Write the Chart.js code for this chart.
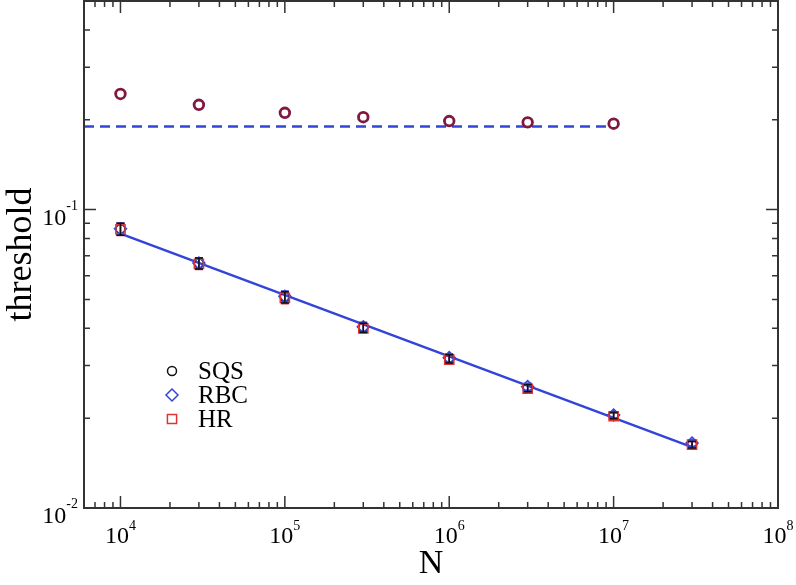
<!DOCTYPE html>
<html>
<head>
<meta charset="utf-8">
<script src="https://cdn.jsdelivr.net/npm/chart.js@4.4.0/dist/chart.umd.min.js"></script>
<style>
  html, body { margin: 0; padding: 0; background: #fff; }
</style>
</head>
<body>
<canvas id="chart" width="796" height="585"></canvas>
<script>
// system sizes N and thresholds
const sizes = [1e4, 3e4, 1e5, 3e5, 1e6, 3e6, 1e7, 3e7];
const sqsValues = [0.0860, 0.0660, 0.0508, 0.0402, 0.0316, 0.0252, 0.0204, 0.0163];
const rbcValues = [0.0862, 0.0662, 0.0512, 0.0405, 0.0319, 0.0255, 0.0205, 0.0165];
const hrValues  = [0.0858, 0.0658, 0.0506, 0.0400, 0.0314, 0.0251, 0.0203, 0.0163];
const errors    = [0.0040, 0.0028, 0.0022, 0.0014, 0.0010, 0.0007, 0.0005, 0.0004];

const upperSizes  = [1e4, 3e4, 1e5, 3e5, 1e6, 3e6, 1e7];
const upperValues = [0.244, 0.2245, 0.211, 0.204, 0.198, 0.196, 0.194];

const fitSizes  = [1e4, 3e7];
const fitValues = [0.0831, 0.0160];
const limitSizes  = [6000, 1e7];
const limitValues = [0.19, 0.19];

const xTickExponents = [4, 5, 6, 7, 8];
const yTickExponents = [-2, -1];

const BLUE = '#3344d8';
const RED = '#e03434';
const FONT = '"Liberation Serif", "Times New Roman", Times, serif';

const pts = (xs, ys) => xs.map((x, i) => ({ x: x, y: ys[i] }));

// inward ticks on all four sides, frame and 10^n labels
const framePlugin = {
    id: 'frame',
    afterDraw(chart) {
        const { ctx, chartArea: a, scales: { x, y } } = chart;
        ctx.save();
        ctx.strokeStyle = '#333';
        ctx.lineWidth = 1.5;
        ctx.beginPath();
        for (let e = 3; e <= 8; e++) {
            for (let m = 1; m <= 9; m++) {
                const v = m * Math.pow(10, e);
                if (v <= x.min || v >= x.max) continue;
                const px = x.getPixelForValue(v);
                const len = m === 1 ? 12 : 6;
                ctx.moveTo(px, a.bottom); ctx.lineTo(px, a.bottom - len);
                ctx.moveTo(px, a.top); ctx.lineTo(px, a.top + len);
            }
        }
        for (let e = -3; e <= 0; e++) {
            for (let m = 1; m <= 9; m++) {
                const v = m * Math.pow(10, e);
                if (v <= y.min || v >= y.max) continue;
                const py = y.getPixelForValue(v);
                const len = m === 1 ? 12 : 6;
                ctx.moveTo(a.left, py); ctx.lineTo(a.left + len, py);
                ctx.moveTo(a.right, py); ctx.lineTo(a.right - len, py);
            }
        }
        ctx.stroke();
        ctx.lineWidth = 2;
        ctx.strokeRect(a.left, a.top, a.right - a.left, a.bottom - a.top);

        ctx.fillStyle = '#000';
        ctx.textBaseline = 'alphabetic';
        const big = '24px ' + FONT, small = '14px ' + FONT;
        xTickExponents.forEach(e => {
            const px = x.getPixelForValue(Math.pow(10, e));
            ctx.font = big;
            const w1 = ctx.measureText('10').width;
            ctx.font = small;
            const w2 = ctx.measureText(String(e)).width;
            const left = px - (w1 + w2) / 2;
            ctx.font = big;
            ctx.textAlign = 'left';
            ctx.fillText('10', left, a.bottom + 35);
            ctx.font = small;
            ctx.fillText(String(e), left + w1, a.bottom + 22);
        });
        yTickExponents.forEach(e => {
            const py = y.getPixelForValue(Math.pow(10, e));
            ctx.font = small;
            ctx.textAlign = 'right';
            const sup = String(e);
            const w2 = ctx.measureText(sup).width;
            ctx.fillText(sup, a.left - 6, py + 0);
            ctx.font = big;
            ctx.fillText('10', a.left - 6 - w2, py + 15);
        });
        ctx.restore();
    }
};

// vertical error bars with caps
const errorBarPlugin = {
    id: 'errorBars',
    afterDatasetsDraw(chart) {
        const { ctx, scales: { x, y } } = chart;
        ctx.save();
        chart.data.datasets.forEach(ds => {
            if (!ds.errors) return;
            ctx.strokeStyle = ds.borderColor;
            ctx.lineWidth = 1.5;
            ctx.beginPath();
            ds.data.forEach((p, i) => {
                const px = x.getPixelForValue(p.x);
                const top = y.getPixelForValue(p.y + ds.errors[i]);
                const bot = y.getPixelForValue(p.y - ds.errors[i]);
                ctx.moveTo(px, top); ctx.lineTo(px, bot);
                ctx.moveTo(px - 4, top); ctx.lineTo(px + 4, top);
                ctx.moveTo(px - 4, bot); ctx.lineTo(px + 4, bot);
            });
            ctx.stroke();
        });
        ctx.restore();
    }
};

// legend inside the plot area
const legendPlugin = {
    id: 'innerLegend',
    afterDraw(chart) {
        const { ctx } = chart;
        const items = chart.data.datasets.filter(ds => ds.inLegend)
            .sort((p, q) => p.inLegend - q.inLegend);
        ctx.save();
        items.forEach((ds, i) => {
            const yy = 371 + i * 24;
            ctx.strokeStyle = ds.borderColor;
            ctx.fillStyle = 'rgba(0,0,0,0)';
            ctx.lineWidth = 1.5;
            Chart.helpers.drawPoint(ctx, {
                pointStyle: ds.pointStyle, radius: ds.legendRadius,
                rotation: 0, borderWidth: 1.5
            }, 172, yy);
            ctx.fillStyle = '#000';
            ctx.font = '25px ' + FONT;
            ctx.textAlign = 'left';
            ctx.textBaseline = 'middle';
            ctx.fillText(ds.label, 198, yy + 1);
        });
        ctx.restore();
    }
};

function build() {
    new Chart(document.getElementById('chart'), {
        type: 'scatter',
        data: {
            datasets: [
                {
                    label: 'HR', inLegend: 3, legendRadius: 6.5,
                    data: pts(sizes, hrValues), errors: errors,
                    pointStyle: 'rect', pointRadius: 6.5, borderColor: RED,
                    backgroundColor: 'rgba(0,0,0,0)', pointBorderWidth: 1.5
                },
                {
                    label: 'RBC', inLegend: 2, legendRadius: 6,
                    data: pts(sizes, rbcValues), errors: errors,
                    pointStyle: 'rectRot', pointRadius: 6, borderColor: BLUE,
                    backgroundColor: 'rgba(0,0,0,0)', pointBorderWidth: 1.5
                },
                {
                    label: 'SQS', inLegend: 1, legendRadius: 4.5,
                    data: pts(sizes, sqsValues), errors: errors,
                    pointStyle: 'circle', pointRadius: 4.5, borderColor: '#111',
                    backgroundColor: 'rgba(0,0,0,0)', pointBorderWidth: 1.5
                },
                {
                    label: 'upper',
                    data: pts(upperSizes, upperValues),
                    pointStyle: 'circle', pointRadius: 4.8, borderColor: '#80183f',
                    backgroundColor: 'rgba(255,255,255,1)', pointBorderWidth: 2.8
                },
                {
                    label: 'fit',
                    data: pts(fitSizes, fitValues),
                    showLine: true, pointRadius: 0, borderColor: BLUE, borderWidth: 2.5
                },
                {
                    label: 'limit',
                    data: pts(limitSizes, limitValues),
                    showLine: true, pointRadius: 0, borderColor: BLUE, borderWidth: 2.5,
                    borderDash: [10, 6]
                }
            ]
        },
        options: {
            responsive: false,
            animation: false,
            devicePixelRatio: 1,
            layout: { autoPadding: false, padding: { top: 1, right: 18, left: 0, bottom: 0 } },
            plugins: { legend: { display: false }, tooltip: { enabled: false } },
            scales: {
                x: {
                    type: 'logarithmic', min: 6000, max: 1e8,
                    grid: { display: false }, border: { display: false },
                    ticks: { display: false },
                    title: {
                        display: true, text: 'N', color: '#000',
                        font: { family: FONT, size: 34 }, padding: { top: 0, bottom: 1 }
                    },
                    afterFit(s) { s.height = 77; }
                },
                y: {
                    type: 'logarithmic', min: 0.01, max: 0.5,
                    grid: { display: false }, border: { display: false },
                    ticks: { display: false },
                    title: {
                        display: true, text: 'threshold', color: '#000',
                        font: { family: FONT, size: 36 }, padding: { top: 0, bottom: 0 }
                    },
                    afterFit(s) { s.width = 84; }
                }
            }
        },
        plugins: [errorBarPlugin, framePlugin, legendPlugin]
    });
}

Promise.all([
    document.fonts.load('24px "Liberation Serif"'),
    document.fonts.load('36px "Liberation Serif"')
]).then(build, build);
</script>
</body>
</html>
